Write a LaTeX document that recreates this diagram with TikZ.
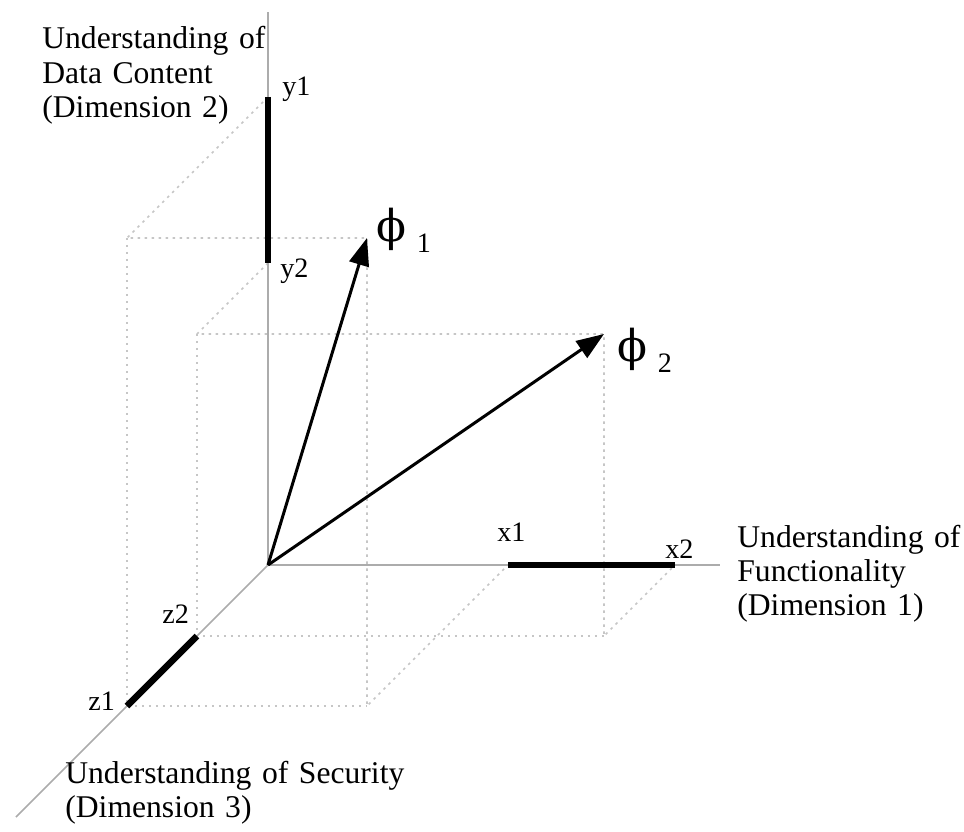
\documentclass[tikz,border=0pt]{standalone}
\usepackage{fontspec}
\setmainfont{Liberation Serif}
\newfontfamily\phifont{DejaVu Serif}
\usetikzlibrary{arrows.meta}
\tikzset{
  axis/.style={gray!65, line width=0.03cm},
  seg/.style={line width=0.13cm},
  guide/.style={gray!45, line width=0.035cm, dash pattern=on 0.05cm off 0.09cm},
  vec/.style={line width=0.06cm, -{Triangle[length=0.55cm,width=0.4cm]}},
  dimtext/.style={font=\fontsize{18}{19.5}\selectfont, inner sep=0pt, anchor=base west, text width=8cm, align=left},
  lbl/.style={font=\fontsize{16}{16}\selectfont, inner sep=0pt, anchor=base west}
}
\newcommand{\philbl}[1]{{\phifont\fontsize{25}{25}\selectfont ϕ}\hspace{6pt}\raisebox{-6pt}{\fontsize{16}{16}\selectfont #1}}
\begin{document}
\begin{tikzpicture}[x={(0.02cm,0)}, y={(0,0.02cm)}, z={(-0.02cm,-0.02cm)}, line join=round]
	\def\xa{240} \def\xb{407} % x1, x2
	\def\ya{468} \def\yb{302} % y1, y2
	\def\za{141} \def\zb{71}  % z1, z2
	\useasboundingbox (-268,-267) rectangle (696,565);
	\coordinate (O) at (0,0,0);
	\coordinate (Xend) at (452,0,0);
	\coordinate (Yend) at (0,553,0);
	\coordinate (Zend) at (0,0,252);
	\coordinate (X1) at (\xa,0,0); \coordinate (X2) at (\xb,0,0);
	\coordinate (Y1) at (0,\ya,0); \coordinate (Y2) at (0,\yb,0);
	\coordinate (Z1) at (0,0,\za); \coordinate (Z2) at (0,0,\zb);
	\coordinate (A1) at (0,\ya,\za); \coordinate (B1) at (\xa,0,\za);
	\coordinate (A2) at (0,\yb,\zb); \coordinate (B2) at (\xb,0,\zb);
	\coordinate (P1) at (\xa,\ya,\za);
	\coordinate (P2) at (\xb,\yb,\zb);
	% dotted box edges
	\draw[guide] (Y1)--(A1)--(P1)--(B1)--(X1);
	\draw[guide] (A1)--(Z1)--(B1);
	\draw[guide] (Y2)--(A2)--(P2)--(B2)--(X2);
	\draw[guide] (A2)--(Z2)--(B2);
	% axes
	\draw[axis] (O)--(Xend);
	\draw[axis] (O)--(Yend);
	\draw[axis] (O)--(Zend);
	\draw[seg] (X1)--(X2);
	\draw[seg] (Y1)--(Y2);
	\draw[seg] (Z1)--(Z2);
	\draw[vec] (O)--(P1);
	\draw[vec] (O)--(P2);
	\node[lbl] (ly1) at (14,469) {y1};
	\node[lbl] (ly2) at (12,287) {y2};
	\node[lbl] (lx1) at (229,24) {x1};
	\node[lbl] (lx2) at (397,7) {x2};
	\node[lbl] (lz2) at (-106,-58) {z2};
	\node[lbl] (lz1) at (-180,-145) {z1};
	\node[inner sep=0pt, anchor=base west] (f1) at (108,323) {\philbl{1}};
	\node[inner sep=0pt, anchor=base west] (f2) at (349,203) {\philbl{2}};
	\node[dimtext] (d2) at (-226,516) {Understanding of\\Data Content\\(Dimension 2)};
	\node[dimtext] (d1) at (469,18) {Understanding of\\Functionality\\(Dimension 1)};
	\node[dimtext] (d3) at (-203,-218) {Understanding of Security\\(Dimension 3)};
\end{tikzpicture}
\end{document}
